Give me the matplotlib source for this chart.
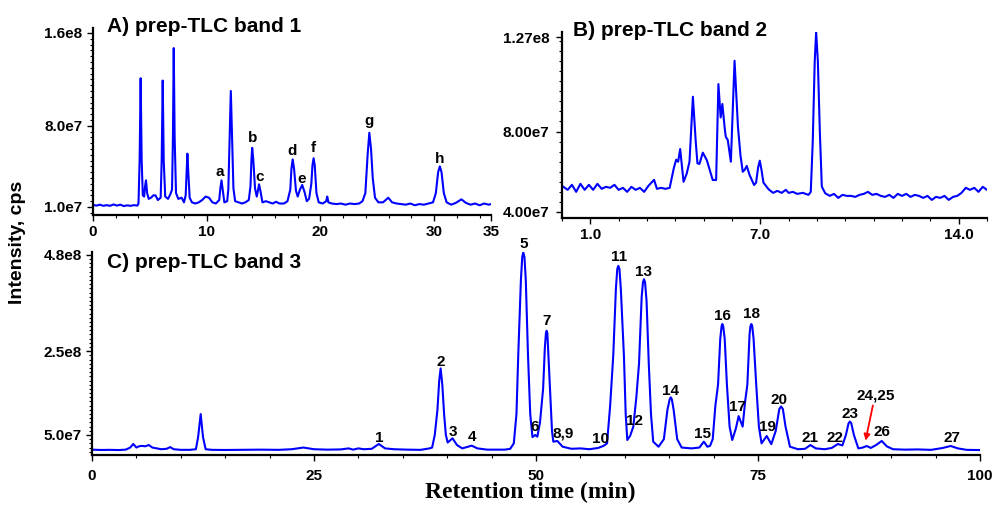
import numpy as np
import matplotlib
matplotlib.use("Agg")
import matplotlib.pyplot as plt
from matplotlib.ticker import MultipleLocator

plt.rcParams['font.family'] = ['Liberation Sans', 'DejaVu Sans']
plt.rcParams['font.weight'] = 'bold'

# ---- panel A: prep-TLC band 1 (time min, intensity in 1e7 cps) ----
a_time = [0.0, 0.3, 0.6, 0.9, 1.2, 1.5, 1.8, 2.1, 2.4, 2.7, 3.0, 3.3, 3.6, 3.9,
          4.0, 4.1, 4.19, 4.28, 4.38, 4.5, 4.58, 4.66, 4.76, 4.9, 5.1, 5.3, 5.5, 5.7,
          5.95, 6.04, 6.13, 6.22, 6.35, 6.6, 6.8, 6.95, 7.03, 7.1, 7.18, 7.3,
          7.5, 7.8, 8.0, 8.15, 8.23, 8.3, 8.38, 8.5, 8.7, 9.0, 9.3, 9.6, 9.9, 10.2, 10.5, 10.8,
          11.1, 11.2, 11.3, 11.42, 11.55, 11.8, 11.9, 12.0, 12.12, 12.24, 12.35, 12.5,
          12.8, 13.1, 13.4, 13.7, 13.85, 13.93, 14.0, 14.1, 14.25, 14.4, 14.5, 14.6, 14.72, 14.9,
          15.2, 15.5, 15.8, 16.1, 16.4, 16.8, 17.1, 17.35, 17.45, 17.56, 17.68, 17.85, 18.0,
          18.2, 18.4, 18.6, 18.8, 19.0, 19.2, 19.3, 19.4, 19.5, 19.65, 19.85,
          20.2, 20.5, 20.6, 20.7, 21.0, 21.4, 21.8, 22.2, 22.6, 23.0, 23.4, 23.7,
          23.95, 24.15, 24.3, 24.45, 24.6, 24.8, 25.1, 25.5, 25.97, 26.3, 26.7, 27.1, 27.5,
          27.9, 28.3, 28.7, 29.1, 29.5, 29.9, 30.15, 30.35, 30.5, 30.65, 30.85, 31.1,
          31.5, 31.9, 32.4, 32.8, 33.2, 33.6, 34.0, 34.4, 34.8, 35.0]
a_int = [1.18, 1.12, 1.2, 1.1, 1.16, 1.1, 1.22, 1.12, 1.2, 1.08, 1.14, 1.1, 1.16, 1.12,
         1.3, 5.0, 12.1, 5.0, 2.0, 1.9, 2.8, 3.3, 2.2, 1.7, 1.8, 2.0, 2.0, 1.6,
         1.8, 5.0, 11.9, 5.0, 1.9, 1.7, 2.1, 2.5, 7.0, 14.7, 7.0, 2.2,
         1.7, 1.8, 1.4, 2.0, 4.0, 5.6, 4.0, 1.8, 1.4, 1.3, 1.4, 1.6, 1.9, 1.8, 1.4, 1.3,
         1.6, 2.6, 3.3, 2.4, 1.4, 1.5, 2.5, 6.5, 11.0, 6.5, 2.6, 1.5,
         1.4, 1.3, 1.4, 1.6, 2.8, 5.0, 6.1, 5.0, 2.6, 1.9, 2.4, 2.96, 2.4, 1.4,
         1.5, 1.4, 1.3, 1.45, 1.3, 1.3, 1.5, 2.5, 4.3, 5.1, 4.3, 2.4, 1.9,
         2.5, 2.9, 2.3, 1.5, 1.7, 3.0, 4.6, 5.2, 4.6, 2.2, 1.4,
         1.3, 1.5, 1.9, 1.4, 1.3, 1.25, 1.3, 1.2, 1.3, 1.25, 1.3, 1.5,
         2.2, 5.5, 7.4, 6.0, 3.5, 1.8, 1.4, 1.4, 1.8, 1.4, 1.3, 1.25, 1.2,
         1.3, 1.15, 1.25, 1.2, 1.3, 1.4, 2.2, 4.0, 4.5, 4.0, 2.2, 1.4,
         1.2, 1.35, 1.66, 1.35, 1.2, 1.3, 1.15, 1.3, 1.2, 1.25]
a_labels = ['a', 'b', 'c', 'd', 'e', 'f', 'g', 'h']
a_label_t = [11.17, 14.05, 14.63, 17.53, 18.36, 19.38, 24.3, 30.46]
a_label_y = [4.02, 6.95, 3.6, 5.85, 3.41, 6.11, 8.41, 5.11]

# ---- panel B: prep-TLC band 2 ----
b_time = [0.0, 0.2, 0.35, 0.5, 0.65, 0.8, 0.95, 1.1, 1.25, 1.4, 1.55, 1.7, 1.85, 2.0,
          2.15, 2.3, 2.45, 2.6, 2.75, 2.9, 3.05, 3.25, 3.35, 3.5, 3.65, 3.8,
          3.95, 4.03, 4.1, 4.17, 4.29, 4.4, 4.5, 4.62, 4.72, 4.78, 4.85, 4.97, 5.11,
          5.25, 5.32, 5.44, 5.52, 5.6, 5.66, 5.74, 5.78, 5.85, 5.96, 6.09, 6.21, 6.3,
          6.38, 6.45, 6.52, 6.62, 6.78, 6.85, 6.92, 6.98, 7.04, 7.11, 7.29, 7.45, 7.6,
          7.75, 7.9, 8.0, 8.15, 8.3, 8.5, 8.7, 8.78, 8.85, 8.92, 8.97, 9.03, 9.1, 9.17,
          9.29, 9.45, 9.6, 9.75, 9.9, 10.05, 10.2, 10.35, 10.5, 10.65, 10.8, 10.95,
          11.1, 11.25, 11.4, 11.55, 11.7, 11.85, 12.0, 12.15, 12.3, 12.45, 12.6, 12.75,
          12.9, 13.05, 13.2, 13.35, 13.5, 13.65, 13.8, 13.95, 14.1, 14.25, 14.4, 14.55,
          14.7, 14.85, 15.0]
b_int = [5.3, 5.1, 5.35, 5.0, 5.4, 5.1, 5.35, 5.1, 5.4, 5.15, 5.25, 5.2, 5.35, 5.1,
         5.2, 5.0, 5.25, 5.1, 5.2, 5.0, 5.3, 5.6, 5.15, 5.2, 5.15, 5.2,
         6.2, 6.6, 6.5, 7.13, 5.5, 5.9, 6.5, 9.73, 7.5, 6.42, 6.39, 6.95, 6.58,
         5.92, 5.59, 5.59, 10.36, 8.7, 9.37, 8.2, 7.74, 7.58, 6.5, 11.52, 8.24, 6.8,
         6.0, 6.1, 6.29, 5.84, 5.34, 5.46, 6.2, 6.55, 6.1, 5.46, 5.13, 4.95, 5.05,
         4.95, 5.1, 4.95, 5.0, 4.9, 4.95, 4.85, 5.0, 7.5, 11.5, 12.96, 11.5, 8.0, 5.26,
         4.93, 4.8, 4.9, 4.7, 4.85, 4.8, 4.8, 4.75, 4.85, 4.9, 5.0, 4.85,
         4.9, 4.8, 4.75, 4.85, 4.7, 4.9, 4.8, 4.9, 4.75, 4.85, 4.8, 4.7,
         4.8, 4.6, 4.75, 4.7, 4.8, 4.6, 4.75, 4.8, 4.95, 5.2, 5.1, 5.2,
         5.0, 5.25, 5.1]

# ---- panel C: prep-TLC band 3 ----
c_time = [0.0, 1.0, 2.0, 3.0, 3.8, 4.3, 4.65, 5.0, 5.3, 5.6, 6.0, 6.4, 6.8, 7.3, 7.8,
          8.4, 8.8, 9.2, 10.0, 11.0, 11.7, 11.95, 12.24, 12.5, 12.8, 13.5, 15.0, 17.0,
          19.0, 21.0, 22.5, 23.8, 25.0, 26.5, 28.0, 28.9, 29.4, 30.0, 30.6, 31.5, 32.3,
          33.0, 34.0, 35.5, 37.0, 38.0, 38.3, 38.6, 38.9, 39.1, 39.26, 39.45, 39.65,
          39.85, 40.05, 40.6, 41.1, 41.7, 42.2, 42.76, 43.4, 44.5, 45.5, 46.5, 47.1,
          47.5, 47.8, 48.0, 48.3, 48.45, 48.57, 48.7, 48.85, 49.1, 49.35, 49.6, 49.9,
          50.15, 50.45, 50.8, 51.0, 51.12, 51.2, 51.28, 51.4, 51.6, 51.8, 51.95, 52.4,
          53.0, 54.0, 55.0, 56.0, 57.0, 57.6, 58.0, 58.35, 58.7, 59.0, 59.15, 59.27,
          59.4, 59.55, 59.9, 60.1, 60.28, 60.6, 60.96, 61.3, 61.6, 61.9, 62.05, 62.16,
          62.28, 62.45, 62.7, 62.95, 63.2, 63.8, 64.4, 64.8, 65.05, 65.17, 65.3, 65.5,
          65.9, 66.4, 67.5, 68.4, 68.9, 69.3, 69.6, 69.9, 70.2, 70.5, 70.75, 70.9,
          70.98, 71.08, 71.25, 71.5, 71.8, 72.1, 72.5, 72.82, 73.27, 73.55, 73.8,
          74.05, 74.15, 74.25, 74.35, 74.5, 74.8, 75.1, 75.4, 75.98, 76.5, 77.0, 77.4,
          77.6, 77.8, 78.1, 78.6, 79.5, 80.3, 80.9, 81.5, 82.5, 83.3, 84.0, 84.5, 84.9,
          85.2, 85.36, 85.5, 85.8, 86.3, 86.8, 87.24, 87.7, 88.3, 88.93, 89.5, 90.2,
          91.5, 93.0, 94.5, 95.8, 96.7, 97.5, 98.5, 100.0]
c_int = [1.5, 1.42, 1.45, 1.4, 1.5, 2.0, 2.85, 2.0, 2.3, 2.4, 2.3, 2.6, 2.0, 1.8, 1.6,
         1.7, 2.1, 1.6, 1.45, 1.45, 1.6, 4.5, 10.0, 4.5, 1.6, 1.45, 1.42, 1.45,
         1.5, 1.45, 1.6, 2.0, 1.6, 1.5, 1.55, 1.8, 1.5, 1.8, 1.6, 1.7, 2.85,
         1.8, 1.6, 1.5, 1.45, 1.8, 2.0, 5.0, 11.0, 18.0, 20.9, 17.0, 10.0,
         5.0, 3.2, 4.2, 2.6, 1.8, 2.1, 2.45, 1.8, 1.5, 1.5, 1.5, 1.7,
         3.0, 10.0, 24.0, 42.0, 47.5, 48.6, 47.5, 42.0, 24.0, 10.0, 4.5, 5.0,
         4.6, 8.0, 16.0, 26.0, 29.3, 29.9, 29.3, 24.0, 15.0, 6.0, 3.4, 3.57,
         2.2, 1.7, 1.8, 1.6, 1.9, 2.4, 3.0, 12.0, 24.0, 40.0, 44.6, 45.4,
         44.6, 40.0, 24.0, 10.0, 3.8, 4.8, 7.0, 14.0, 22.0, 38.0, 41.5, 42.2,
         41.5, 37.0, 22.0, 10.0, 3.4, 2.2, 4.0, 11.0, 13.5, 14.0, 13.5, 11.0,
         4.0, 2.0, 1.8, 2.0, 3.4, 2.2, 2.4, 4.0, 12.0, 17.0, 28.0, 31.0,
         31.5, 31.0, 28.0, 17.0, 7.0, 3.8, 6.5, 9.5, 7.0, 13.0, 17.0,
         29.0, 31.0, 31.5, 31.0, 28.0, 17.0, 7.0, 3.0, 4.76, 2.8, 6.0, 11.2,
         11.8, 11.2, 7.0, 2.2, 1.6, 1.7, 2.6, 1.8, 1.6, 1.9, 2.85, 2.5, 5.0,
         7.8, 8.2, 7.8, 5.0, 1.8, 2.0, 2.37, 1.9, 2.6, 3.57, 2.3, 1.6,
         1.5, 1.55, 1.45, 1.9, 2.37, 1.8, 1.45, 1.4]
c_labels = ['1', '2', '3', '4', '5', '6', '7', '8,9', '10', '11', '12', '13', '14',
            '15', '16', '17', '18', '19', '20', '21', '22', '23', '24,25', '26', '27']
c_label_t = [32.3, 39.3, 40.6, 42.8, 48.6, 49.9, 51.2, 53.1, 57.3, 59.3, 61.1, 62.1,
             65.2, 68.8, 71.0, 72.7, 74.3, 76.1, 77.4, 80.9, 83.7, 85.4, 88.3, 89.0, 96.8]
c_label_y = [4.3, 22.5, 5.8, 4.45, 50.6, 7.0, 32.3, 5.4, 4.04, 47.6, 8.4, 43.9,
             15.6, 5.2, 33.3, 11.8, 33.9, 7.0, 13.4, 4.2, 4.35, 10.0, 14.5, 5.8, 4.35]
c_arrow_from = (88.0, 12.7)
c_arrow_to = (87.05, 3.0)

blue = '#0000ff'
W, H = 995, 508


def box(l, t, r, b):
    return [l / W, 1 - b / H, (r - l) / W, (b - t) / H]


def style_axis(ax):
    ax.spines['top'].set_visible(False)
    ax.spines['right'].set_visible(False)
    ax.spines['left'].set_linewidth(1.6)
    ax.spines['bottom'].set_linewidth(1.6)
    ax.tick_params(which='major', length=4, width=1.0, labelsize=11)
    ax.tick_params(which='minor', length=2.5, width=0.8)


fig = plt.figure(figsize=(9.95, 5.08), dpi=100)

# panel A
ax_a = fig.add_axes(box(93, 28, 491, 215))
ax_a.plot(a_time, np.array(a_int) * 1e7, color=blue, lw=1.5)
ax_a.set_xlim(0, 35)
ax_a.set_ylim(3.1e6, 1.643e8)
ax_a.set_xticks([0, 10, 20, 30, 35], labels=['0', '10', '20', '30', '35'])
ax_a.xaxis.set_minor_locator(MultipleLocator(2))
ax_a.set_yticks([1e7, 8e7, 1.6e8], labels=['1.0e7', '8.0e7', '1.6e8'])
ax_a.yaxis.set_minor_locator(MultipleLocator(5e6))
style_axis(ax_a)
for lab, t, y in zip(a_labels, a_label_t, a_label_y):
    ax_a.text(t, y * 1e7, lab, ha='center', va='center', fontsize=11)

# panel B
ax_b = fig.add_axes(box(562, 32, 987, 218))
ax_b.plot(b_time, np.array(b_int) * 1e7, color=blue, lw=1.5)
ax_b.set_xlim(0, 15.0)
ax_b.set_ylim(3.7e7, 1.295e8)
ax_b.set_xticks([1.0, 7.0, 14.0], labels=['1.0', '7.0', '14.0'])
ax_b.xaxis.set_minor_locator(MultipleLocator(1.0))
ax_b.set_yticks([4e7, 8e7, 1.27e8], labels=['4.00e7', '8.00e7', '1.27e8'])
ax_b.yaxis.set_minor_locator(MultipleLocator(5e6))
style_axis(ax_b)
ax_b.tick_params(axis='y', which='major', pad=5)

# panel C
ax_c = fig.add_axes(box(92, 252, 980, 455))
ax_c.plot(c_time, np.array(c_int) * 1e7, color=blue, lw=1.5)
ax_c.set_xlim(0, 100)
ax_c.set_ylim(2.2e6, 4.87e8)
ax_c.set_xticks([0, 25, 50, 75, 100])
ax_c.xaxis.set_minor_locator(MultipleLocator(5))
ax_c.set_yticks([5e7, 2.5e8, 4.8e8], labels=['5.0e7', '2.5e8', '4.8e8'])
ax_c.yaxis.set_minor_locator(MultipleLocator(1e7))
style_axis(ax_c)
ax_c.tick_params(axis='x', which='major', pad=6)
for lab, t, y in zip(c_labels, c_label_t, c_label_y):
    ax_c.text(t, y * 1e7, lab, ha='center', va='center', fontsize=11, clip_on=False)
ax_c.annotate('', xy=(c_arrow_to[0], c_arrow_to[1] * 1e7),
              xytext=(c_arrow_from[0], c_arrow_from[1] * 1e7),
              arrowprops=dict(arrowstyle='-|>', color='red', lw=1.3, mutation_scale=9))

# panel titles and axis labels
fig.text(107 / W, 1 - 26 / H, 'A) prep-TLC band 1', fontsize=15, va='center')
fig.text(573 / W, 1 - 30 / H, 'B) prep-TLC band 2', fontsize=15, va='center')
fig.text(107 / W, 1 - 263 / H, 'C) prep-TLC band 3', fontsize=15, va='center')
fig.text(18 / W, 1 - 242 / H, 'Intensity, cps', fontsize=14,
         rotation=90, ha='center', va='center')
fig.text(530 / W, 1 - 492 / H, 'Retention time (min)', fontsize=17,
         family=['Liberation Serif', 'DejaVu Serif'], ha='center', va='center')

fig.savefig('out.png', dpi=100)
